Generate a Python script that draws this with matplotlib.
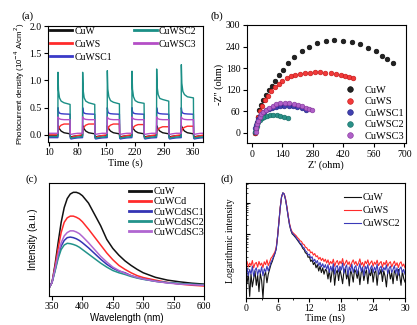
import numpy as np
import matplotlib.pyplot as plt
from matplotlib.ticker import MultipleLocator, LogLocator, NullFormatter

plt.rcParams['font.family'] = ['Liberation Serif', 'DejaVu Serif']
plt.rcParams['axes.linewidth'] = 0.8
plt.rcParams['xtick.major.width'] = 0.8
plt.rcParams['ytick.major.width'] = 0.8
plt.rcParams['xtick.major.size'] = 3
plt.rcParams['ytick.major.size'] = 3
plt.rcParams['xtick.labelsize'] = 7
plt.rcParams['ytick.labelsize'] = 7
plt.rcParams['xtick.major.pad'] = 1.5
plt.rcParams['ytick.major.pad'] = 1.5

SANS = ['Liberation Sans', 'DejaVu Sans']

# ---------------- (a) photocurrent on/off cycles ----------------
light_on = [32, 92, 152, 212, 272, 332]
cycle_offsets = [0, 0.3, 1.5, 4, 8, 15, 29.7, 30.3, 32, 38, 48, 59.7]
lead_t = [10, 20, 31.9]

cuw_lead = [-0.01, -0.01, -0.01]
cuw_cycle = [-0.01, 0.17, 0.15, 0.11, 0.07, 0.04, 0.02, -0.03, -0.035, -0.025, -0.015, -0.01]

cuws_lead = [0.0, 0.0, 0.0]
cuws_cycles = [
    [0.0, 0.07, 0.1, 0.15, 0.18, 0.2, 0.2, -0.03, -0.05, -0.03, -0.01, 0.0],
    [0.0, 0.07, 0.1, 0.15, 0.18, 0.2, 0.2, -0.03, -0.05, -0.03, -0.01, 0.0],
    [0.0, 0.07, 0.1, 0.15, 0.18, 0.2, 0.2, -0.03, -0.05, -0.03, -0.01, 0.0],
    [0.0, 0.07, 0.1, 0.14, 0.17, 0.19, 0.19, -0.03, -0.05, -0.03, -0.01, 0.0],
    [0.0, 0.05, 0.08, 0.11, 0.13, 0.15, 0.15, -0.03, -0.05, -0.03, -0.01, 0.0],
    [0.0, 0.05, 0.08, 0.12, 0.14, 0.16, 0.16, -0.03, -0.05, -0.03, -0.01, 0.0],
]

cuwsc1_lead = [-0.05, -0.05, -0.05]
cuwsc1_cycle = [-0.05, 0.5, 0.43, 0.4, 0.39, 0.385, 0.38, -0.06, -0.075, -0.065, -0.055, -0.05]

cuwsc2_lead = [-0.03, -0.03, -0.03]
cuwsc2_cycles = [
    [-0.03, 1.15, 0.82, 0.68, 0.62, 0.59, 0.56, -0.04, -0.06, -0.05, -0.04, -0.03],
    [-0.03, 1.15, 0.82, 0.68, 0.62, 0.59, 0.56, -0.04, -0.06, -0.05, -0.04, -0.03],
    [-0.03, 1.18, 0.84, 0.70, 0.63, 0.60, 0.57, -0.04, -0.06, -0.05, -0.04, -0.03],
    [-0.03, 1.17, 0.84, 0.70, 0.63, 0.60, 0.58, -0.04, -0.06, -0.05, -0.04, -0.03],
    [-0.03, 1.21, 0.88, 0.74, 0.67, 0.65, 0.62, -0.04, -0.06, -0.05, -0.04, -0.03],
    [-0.03, 1.29, 0.95, 0.80, 0.74, 0.70, 0.68, -0.04, -0.06, -0.05, -0.04, -0.03],
]

cuwsc3_lead = [0.03, 0.03, 0.03]
cuwsc3_cycle = [0.03, 0.33, 0.31, 0.295, 0.285, 0.28, 0.28, 0.02, 0.01, 0.02, 0.03, 0.03]

# ---------------- (b) Nyquist plots ----------------
eis_cuw_x = [15, 18, 22, 28, 35, 44, 54, 65, 78, 92, 107, 125, 145, 168, 196, 229, 264, 301, 341, 379, 420, 459, 497, 532, 569, 599, 622, 647]
eis_cuw_y = [0, 12, 28, 45, 62, 78, 92, 106, 118, 131, 144, 160, 175, 193, 210, 228, 239, 249, 255, 258, 256, 252, 246, 237, 228, 214, 204, 193]
eis_cuws_x = [15, 18, 23, 30, 38, 48, 60, 75, 90, 106, 123, 141, 160, 180, 200, 221, 243, 266, 290, 314, 338, 362, 386, 408, 428, 447, 465]
eis_cuws_y = [0, 12, 28, 44, 60, 75, 90, 103, 115, 126, 136, 145, 152, 157, 161, 164, 166, 167, 168, 168, 167, 166, 163, 160, 157, 154, 152]
eis_sc1_x = [15, 17, 20, 24, 30, 37, 45, 55, 67, 80, 95, 112, 130, 150, 170, 190, 210, 230, 250]
eis_sc1_y = [3, 12, 22, 31, 39, 46, 52, 57, 62, 66, 69, 72, 73, 74, 74, 73, 71, 68, 64]
eis_sc2_x = [17, 19, 22, 26, 31, 38, 46, 56, 68, 82, 98, 115, 132, 150, 168]
eis_sc2_y = [2, 10, 18, 25, 31, 36, 40, 44, 47, 49, 49, 48, 46, 43, 41]
eis_sc3_x = [18, 20, 24, 29, 36, 44, 54, 66, 80, 96, 113, 132, 152, 172, 192, 212, 232, 250, 265, 276]
eis_sc3_y = [2, 13, 24, 34, 43, 51, 58, 64, 70, 75, 79, 82, 83, 83, 81, 78, 74, 70, 66, 62]

# ---------------- (c) PL spectra ----------------
wl = [345, 350, 355, 360, 365, 370, 375, 380, 385, 390, 395, 400, 410, 420, 430,
      440, 450, 460, 470, 480, 490, 500, 520, 540, 560, 580, 600]
pl_cuw = [0.07, 0.12, 0.28, 0.47, 0.65, 0.78, 0.86, 0.9, 0.915, 0.915, 0.905, 0.885, 0.82, 0.72, 0.62,
          0.50, 0.42, 0.36, 0.31, 0.27, 0.235, 0.205, 0.165, 0.14, 0.125, 0.113, 0.105]
pl_cuwcd = [0.07, 0.12, 0.26, 0.42, 0.56, 0.65, 0.69, 0.705, 0.705, 0.695, 0.68, 0.655, 0.59, 0.52, 0.45,
            0.38, 0.32, 0.27, 0.235, 0.205, 0.18, 0.163, 0.14, 0.12, 0.105, 0.095, 0.088]
pl_sc1 = [0.07, 0.12, 0.23, 0.35, 0.44, 0.49, 0.515, 0.52, 0.515, 0.505, 0.49, 0.47, 0.425, 0.375, 0.325,
          0.28, 0.245, 0.22, 0.205, 0.18, 0.163, 0.15, 0.13, 0.117, 0.108, 0.102, 0.097]
pl_sc2 = [0.07, 0.12, 0.22, 0.33, 0.41, 0.45, 0.465, 0.462, 0.455, 0.445, 0.43, 0.41, 0.37, 0.33, 0.29,
          0.255, 0.225, 0.205, 0.19, 0.172, 0.158, 0.147, 0.13, 0.118, 0.11, 0.104, 0.1]
pl_sc3 = [0.07, 0.12, 0.24, 0.37, 0.47, 0.53, 0.56, 0.575, 0.575, 0.565, 0.55, 0.525, 0.47, 0.41, 0.35,
          0.30, 0.255, 0.225, 0.2, 0.18, 0.163, 0.15, 0.13, 0.115, 0.105, 0.1, 0.095]

# ---------------- (d) TRPL decay, log10 counts every 0.25 ns ----------------
trpl_cuw = [1.7, 1.45, 1.8, 1.05, 1.75, 1.35, 1.6, 1.85, 1.4, 1.72, 1.2, 1.78, 1.55, 1.0, 1.7, 1.82, 1.48, 1.75, 1.9, 2.05,
            2.15, 2.28, 2.4, 2.55, 2.92, 3.38, 3.84, 4.18, 4.31, 4.27, 4.1, 3.85, 3.56, 3.3, 3.13, 3.02, 2.98, 2.93, 2.88, 2.82,
            2.76, 2.7, 2.65, 2.56, 2.52, 2.42, 2.4, 2.28, 2.3, 2.15, 2.2, 2.05, 2.12, 1.95, 2.05, 1.85, 2.0, 1.8, 1.95, 1.75, 1.9,
            1.85, 1.6, 1.9, 1.5, 1.82, 1.95, 1.4, 1.78, 1.88, 1.55, 1.9, 1.7, 1.45, 1.85, 1.92, 1.6, 1.8, 1.38, 1.88, 1.75,
            1.5, 1.9, 1.82, 1.62, 1.86, 1.42, 1.8, 1.9, 1.55, 1.78, 1.88, 1.45, 1.84, 1.7, 1.92, 1.5, 1.8, 1.86, 1.4, 1.82,
            1.75, 1.9, 1.52, 1.85, 1.68, 1.35, 1.82, 1.88, 1.6, 1.8, 1.45, 1.86, 1.78, 1.55, 1.9, 1.7, 1.4, 1.85, 1.62, 1.5]
trpl_cuws = [2.05, 2.15, 1.98, 2.1, 2.02, 2.18, 1.95, 2.08, 2.12, 1.97, 2.15, 2.03, 2.1, 1.96, 2.14, 2.05, 2.2, 2.02, 2.12, 2.25,
             2.3, 2.38, 2.45, 2.6, 2.95, 3.4, 3.85, 4.18, 4.3, 4.28, 4.13, 3.88, 3.6, 3.35, 3.18, 3.08, 3.04, 3.0, 2.96, 2.9,
             2.86, 2.8, 2.78, 2.7, 2.68, 2.6, 2.58, 2.5, 2.52, 2.42, 2.45, 2.35, 2.4, 2.3, 2.33, 2.22, 2.28, 2.18, 2.25, 2.15, 2.22,
             2.1, 2.2, 2.05, 2.15, 2.08, 2.22, 2.0, 2.12, 2.18, 2.04, 2.16, 2.08, 2.24, 2.02, 2.1, 2.19, 2.05, 2.14, 1.98, 2.12,
             2.2, 2.06, 2.15, 2.02, 2.1, 2.23, 2.04, 2.12, 1.98, 2.16, 2.08, 2.2, 2.03, 2.11, 2.17, 2.0, 2.13, 2.06, 2.19, 2.02,
             2.1, 2.15, 1.97, 2.12, 2.05, 2.18, 2.0, 2.1, 2.14, 1.98, 2.08, 2.16, 2.02, 2.11, 1.96, 2.09, 2.14, 2.0, 2.07, 1.95]
trpl_sc2 = [1.8, 1.95, 1.7, 1.9, 1.75, 2.0, 1.68, 1.88, 1.95, 1.72, 1.9, 1.78, 1.98, 1.7, 1.92, 1.82, 2.0, 1.85, 1.98, 2.12,
            2.2, 2.3, 2.4, 2.55, 2.93, 3.38, 3.84, 4.18, 4.31, 4.27, 4.1, 3.85, 3.57, 3.32, 3.15, 3.05, 3.0, 2.96, 2.9, 2.84,
            2.8, 2.72, 2.7, 2.6, 2.58, 2.48, 2.45, 2.35, 2.38, 2.25, 2.3, 2.15, 2.22, 2.1, 2.18, 2.02, 2.12, 1.98, 2.08, 1.95, 2.05,
            1.9, 2.05, 1.8, 2.0, 1.85, 2.08, 1.75, 1.98, 2.02, 1.82, 2.0, 1.88, 2.1, 1.78, 1.95, 2.04, 1.72, 1.98, 1.85, 2.06,
            1.8, 1.96, 2.02, 1.76, 1.92, 2.08, 1.84, 1.98, 1.7, 2.0, 1.9, 2.05, 1.78, 1.94, 2.02, 1.8, 1.97, 1.86, 2.06, 1.74,
            1.95, 2.0, 1.82, 1.96, 1.88, 2.04, 1.76, 1.93, 2.0, 1.8, 1.9, 2.02, 1.78, 1.95, 1.72, 1.92, 1.98, 1.8, 1.9, 1.75]

c_blk = '#111111'
c_red = '#ff2b2b'
c_blu = '#3a3ac8'
c_teal = '#1b8f86'
c_mag = '#b44ec6'

fig = plt.figure(figsize=(4.17, 3.25), dpi=100)
W, H = 417.0, 325.0


def px_axes(l, t, r, b):
    return fig.add_axes([l / W, 1 - b / H, (r - l) / W, (b - t) / H])


# ---- (a) ----
ax1 = px_axes(48, 26, 203, 142)


def build(lead, rows):
    t = list(lead_t)
    v = list(lead)
    for k, t0 in enumerate(light_on):
        t += [t0 + o for o in cycle_offsets]
        v += list(rows[k])
    return np.array(t), np.array(v)


series_a = [
    ('CuW', cuw_lead, [cuw_cycle] * 6, c_blk),
    ('CuWS', cuws_lead, cuws_cycles, c_red),
    ('CuWSC1', cuwsc1_lead, [cuwsc1_cycle] * 6, c_blu),
    ('CuWSC2', cuwsc2_lead, cuwsc2_cycles, c_teal),
    ('CuWSC3', cuwsc3_lead, [cuwsc3_cycle] * 6, c_mag),
]
for name, lead, rows, col in series_a:
    t, v = build(lead, rows)
    ax1.plot(t, v, color=col, lw=1.0, label=name)
ax1.set_xlim(8, 385)
ax1.set_ylim(-0.13, 2.0)
ax1.set_xticks([10, 80, 150, 220, 290, 360])
ax1.set_yticks([0.0, 0.5, 1.0, 1.5, 2.0])
ax1.set_yticklabels(['0.0', '0.5', '1.0', '1.5', '2.0'])
ax1.set_xlabel('Time (s)', fontsize=7.5, labelpad=1)
ax1.set_ylabel('Photocurrent density (10$^{-4}$ A/cm$^{2}$)', fontsize=5.7,
               family=SANS, labelpad=2)
leg = ax1.legend(ncol=2, loc='upper left', bbox_to_anchor=(0.01, 0.995), frameon=False,
                 fontsize=7, handlelength=2.3, handletextpad=0.25, columnspacing=2.3,
                 labelspacing=0.42, borderaxespad=0, borderpad=0)
for h in leg.get_lines():
    h.set_linewidth(2)
fig.text(21 / W, 1 - 16 / H, '(a)', fontsize=8, va='center')

# ---- (b) ----
ax2 = px_axes(246.7, 25, 406, 143.3)
series_b = [
    ('CuW', eis_cuw_x, eis_cuw_y, '#222222', '#000000'),
    ('CuWS', eis_cuws_x, eis_cuws_y, '#f23a3a', '#c01010'),
    ('CuWSC1', eis_sc1_x, eis_sc1_y, '#4040b0', '#202080'),
    ('CuWSC2', eis_sc2_x, eis_sc2_y, '#2a9088', '#106860'),
    ('CuWSC3', eis_sc3_x, eis_sc3_y, '#b060c8', '#803098'),
]
for name, x, y, fc, ec in series_b:
    ax2.plot(x, y, 'o', ms=3.4, mfc=fc, mec=ec, mew=0.4, ls='none', label=name)
ax2.set_xlim(-23, 708)
ax2.set_ylim(-29.5, 300)
ax2.set_xticks([0, 140, 280, 420, 560, 700])
ax2.set_yticks([0, 60, 120, 180, 240, 300])
ax2.set_xlabel("Z' (ohm)", fontsize=7.5, labelpad=1)
ax2.set_ylabel("-Z'' (ohm)", fontsize=7.5, labelpad=1)
ax2.legend(loc='lower right', bbox_to_anchor=(0.99, 0.02), frameon=False, fontsize=7.5,
           handlelength=1.0, handletextpad=0.9, labelspacing=0.22, borderaxespad=0,
           borderpad=0, markerscale=1.2)
fig.text(211 / W, 1 - 16 / H, '(b)', fontsize=8, va='center')

# ---- (c) ----
ax3 = px_axes(49, 182.7, 204, 296)
series_c = [
    ('CuW', pl_cuw, c_blk),
    ('CuWCd', pl_cuwcd, c_red),
    ('CuWCdSC1', pl_sc1, '#3434b4'),
    ('CuWCdSC2', pl_sc2, '#23938b'),
    ('CuWCdSC3', pl_sc3, '#b066d0'),
]
for name, v, col in series_c:
    ax3.plot(wl, v, color=col, lw=1.1, label=name)
ax3.set_xlim(345, 600)
ax3.set_ylim(0, 1)
ax3.set_xticks([350, 400, 450, 500, 550, 600])
ax3.set_yticks([])
ax3.set_xlabel('Wavelength (nm)', fontsize=7, family=SANS, labelpad=1)
ax3.set_ylabel('Intensity (a.u.)', fontsize=7, family=SANS, labelpad=8)
leg = ax3.legend(loc='upper right', bbox_to_anchor=(1.0, 0.96), frameon=False, fontsize=7.3,
                 handlelength=2.2, handletextpad=0.2, labelspacing=0.1, borderaxespad=0,
                 borderpad=0)
for h in leg.get_lines():
    h.set_linewidth(2)
fig.text(25 / W, 1 - 179 / H, '(c)', fontsize=8, va='center')

# ---- (d) ----
ax4 = px_axes(245.7, 183, 405, 298)
t_ns = np.arange(len(trpl_cuw)) * 0.25
series_d = [
    ('CuW', trpl_cuw, '#111111'),
    ('CuWS', trpl_cuws, '#ff2b2b'),
    ('CuWSC2', trpl_sc2, '#3a3ab8'),
]
for name, v, col in series_d:
    ax4.plot(t_ns, 10 ** np.array(v), color=col, lw=0.8, label=name)
ax4.set_yscale('log')
ax4.set_xlim(0, 30)
ax4.set_ylim(10, 10 ** 4.62)
ax4.set_xticks([0, 6, 12, 18, 24, 30])
ax4.xaxis.set_minor_locator(MultipleLocator(3))
ax4.yaxis.set_major_locator(LogLocator(base=10))
ax4.yaxis.set_minor_locator(LogLocator(base=10, subs=np.arange(2, 10)))
ax4.yaxis.set_major_formatter(NullFormatter())
ax4.yaxis.set_minor_formatter(NullFormatter())
ax4.tick_params(axis='y', which='both', direction='in')
ax4.tick_params(axis='y', which='major', length=3)
ax4.tick_params(axis='y', which='minor', length=1.5, width=0.5)
ax4.tick_params(axis='x', which='minor', length=1.5)
ax4.set_xlabel('Time (ns)', fontsize=7.5, labelpad=0)
ax4.set_ylabel('Logarithmic intensity', fontsize=7, labelpad=4)
ax4.legend(loc='upper right', bbox_to_anchor=(0.97, 0.91), frameon=False, fontsize=7,
           handlelength=1.7, handletextpad=0.2, labelspacing=0.4, borderaxespad=0,
           borderpad=0)
fig.text(220 / W, 1 - 179 / H, '(d)', fontsize=8, va='center')

fig.savefig('out.png', dpi=100)
